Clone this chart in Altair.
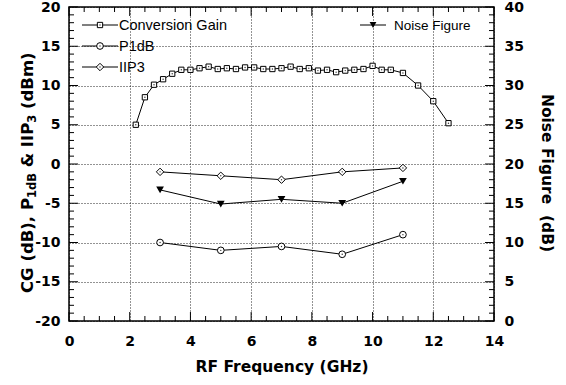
import altair as alt
import pandas as pd

# ---------------- data ----------------
cg_freq = [2.2, 2.5, 2.8, 3.1, 3.4, 3.7, 4.0, 4.3, 4.6, 4.9, 5.2, 5.5, 5.8, 6.1, 6.4, 6.7,
           7.0, 7.3, 7.6, 7.9, 8.2, 8.5, 8.8, 9.1, 9.4, 9.7, 10.0, 10.3, 10.6, 11.0, 11.5, 12.0, 12.5]
cg_gain = [5.0, 8.5, 10.1, 10.8, 11.5, 12.0, 12.0, 12.2, 12.4, 12.1, 12.2, 12.1, 12.3, 12.3, 12.1, 12.1,
           12.2, 12.4, 12.1, 12.2, 11.9, 12.0, 11.7, 11.9, 12.0, 12.1, 12.5, 12.0, 12.0, 11.6, 10.0, 8.0, 5.2]
meas_freq = [3, 5, 7, 9, 11]
p1db = [-10, -11, -10.5, -11.5, -9]
iip3 = [-1, -1.5, -2, -1, -0.5]
noise_fig = [16.7, 14.9, 15.5, 15.0, 17.8]

x_ticks = [0, 2, 4, 6, 8, 10, 12, 14]
y_ticks = [-20, -15, -10, -5, 0, 5, 10, 15, 20]
nf_ticks = [0, 5, 10, 15, 20, 25, 30, 35, 40]
legend_left = ["Conversion Gain", "P1dB", "IIP3"]
legend_right = ["Noise Figure"]
x_title = "RF Frequency (GHz)"
nf_title = "Noise Figure \u00a0(dB)"

# ---------------- layout ----------------
W, H = 425, 314
PADL, PADT = 69, 7
BOLD = "DejaVu Sans"
NORM = "Liberation Sans"

xs = alt.Scale(domain=[0, 14], nice=False, zero=False)
ys = alt.Scale(domain=[-20, 20], nice=False, zero=False)
nfs = alt.Scale(domain=[0, 40], nice=False, zero=False)

cg_df = pd.DataFrame({"f": cg_freq, "v": cg_gain})
meas_df = pd.DataFrame({"f": meas_freq, "p1db": p1db, "iip3": iip3, "nf": noise_fig})
one = pd.DataFrame({"a": [0]})

common_axis = dict(tickSize=0, domain=False, labelFont=BOLD, labelFontSize=14,
                   labelFontWeight="bold", labelColor="#000", labelOverlap=False,
                   labelFlush=False, labelBound=False, gridColor="#000",
                   gridDash=[1, 2], gridWidth=1, gridOpacity=0.85,
                   labelExpr="'' + datum.value")

x_axis = alt.Axis(values=x_ticks, grid=True, labelPadding=13, orient="bottom",
                  title=x_title, titleFont=BOLD, titleFontSize=15.5, titleFontWeight="bold",
                  titleColor="#000", titleY=50.5, titleBaseline="alphabetic", **common_axis)
y_axis = alt.Axis(values=y_ticks, grid=True, labelPadding=9, title=None,
                  orient="left", **common_axis)
nf_axis = alt.Axis(orient="right", values=nf_ticks, grid=False, labelPadding=10,
                   title=nf_title, titleFont=BOLD, titleFontSize=15.5, titleFontWeight="bold",
                   titleColor="#000", titleAngle=90, titleX=47, titleY=165.5,
                   titleAlign="center", titleBaseline="alphabetic", **common_axis)

layers = []

# main layer: CG line carrying the x and left y axes (with grid)
layers.append(alt.Chart(cg_df).mark_line(color="#000", strokeWidth=1).encode(
    x=alt.X("f:Q", scale=xs, axis=x_axis),
    y=alt.Y("v:Q", scale=ys, axis=y_axis)))

# NF layer carrying the right axis
layers.append(alt.Chart(meas_df).mark_line(color="#000", strokeWidth=1).encode(
    x=alt.X("f:Q", scale=xs, axis=None),
    y=alt.Y("nf:Q", scale=nfs, axis=nf_axis)))
layers.append(alt.Chart(meas_df).mark_point(shape="triangle-down", size=60, filled=True,
                                            color="#000", opacity=1).encode(
    x=alt.X("f:Q", scale=xs, axis=None),
    y=alt.Y("nf:Q", scale=nfs, axis=None)))


# inward ticks
def tick_layer(vals, side, length):
    df = pd.DataFrame({"t": vals})
    base = alt.Chart(df).mark_rule(color="#000", strokeWidth=1)
    if side == "bottom":
        return base.encode(x=alt.X("t:Q", scale=xs, axis=None), y=alt.value(H), y2=alt.value(H - length))
    if side == "top":
        return base.encode(x=alt.X("t:Q", scale=xs, axis=None), y=alt.value(0), y2=alt.value(length))
    if side == "left":
        return base.encode(y=alt.Y("t:Q", scale=ys, axis=None), x=alt.value(0), x2=alt.value(length))
    return base.encode(y=alt.Y("t:Q", scale=ys, axis=None), x=alt.value(W), x2=alt.value(W - length))


x_minor = [k * 0.5 for k in range(29) if k % 4 != 0]
y_minor = [k for k in range(-20, 21) if k % 5 != 0]
for side in ["bottom", "top"]:
    layers.append(tick_layer(x_ticks, side, 9))
    layers.append(tick_layer(x_minor, side, 5))
for side in ["left", "right"]:
    layers.append(tick_layer(y_ticks, side, 9))
    layers.append(tick_layer(y_minor, side, 5))


def line_layer(field):
    return alt.Chart(meas_df).mark_line(color="#000", strokeWidth=1).encode(
        x=alt.X("f:Q", scale=xs, axis=None), y=alt.Y(f"{field}:Q", scale=ys, axis=None))


def pt_layer(df, field, shape, size):
    p = alt.Chart(df).mark_point(shape=shape, size=size, filled=True, fill="white",
                                 stroke="#000", strokeWidth=1, opacity=1).encode(
        x=alt.X("f:Q", scale=xs, axis=None), y=alt.Y(f"{field}:Q", scale=ys, axis=None))
    d = alt.Chart(df).mark_circle(size=2, color="#333", opacity=1).encode(
        x=alt.X("f:Q", scale=xs, axis=None), y=alt.Y(f"{field}:Q", scale=ys, axis=None))
    return [p, d]


layers.append(line_layer("p1db"))
layers.append(line_layer("iip3"))
layers += pt_layer(cg_df, "v", "square", 28)
layers += pt_layer(meas_df, "p1db", "circle", 45)
layers += pt_layer(meas_df, "iip3", "diamond", 55)


# ---------------- legends ----------------
def legend_entry(name, shape, cx, cy, x1, x2, tx, size, fs, filled_black=False, dot=True):
    out = [alt.Chart(one).mark_rule(color="#000", strokeWidth=1).encode(
        x=alt.value(x1 - PADL), x2=alt.value(x2 - PADL), y=alt.value(cy - PADT))]
    if filled_black:
        out.append(alt.Chart(one).mark_point(shape=shape, size=size, filled=True, color="#000",
                                             opacity=1).encode(
            x=alt.value(cx - PADL), y=alt.value(cy - PADT)))
    else:
        out.append(alt.Chart(one).mark_point(shape=shape, size=size, filled=True, fill="white",
                                             stroke="#000", strokeWidth=1, opacity=1).encode(
            x=alt.value(cx - PADL), y=alt.value(cy - PADT)))
    if dot:
        out.append(alt.Chart(one).mark_circle(size=2, color="#333", opacity=1).encode(
            x=alt.value(cx - PADL), y=alt.value(cy - PADT)))
    out.append(alt.Chart(pd.DataFrame({"n": [name]})).mark_text(
        font=NORM, fontSize=fs, align="left", baseline="middle", color="#000").encode(
        text="n:N", x=alt.value(tx - PADL), y=alt.value(cy - PADT + 0.5)))
    return out


layers += legend_entry(legend_left[0], "square", 100, 25, 82, 118, 119, 28, 14.5)
layers += legend_entry(legend_left[1], "circle", 100, 46, 82, 118, 119, 45, 14.5)
layers += legend_entry(legend_left[2], "diamond", 100, 67, 82, 118, 119, 55, 14.5)
layers += legend_entry(legend_right[0], "triangle-down", 373, 25, 360, 386, 394, 45, 13.5,
                       filled_black=True, dot=False)

# ---------------- left axis title with subscripts ----------------
em = {"C": .734, "G": .821, " ": .348, "(": .457, ")": .457, "d": .716, "B": .762, ",": .380,
      "P": .733, "1": .696, "3": .696, "&": .871, "I": .372, "m": 1.042}
MAIN, SUB = 16.5, 11.5
pieces = [("CG (dB), P", MAIN), ("1dB", SUB), (" ", MAIN), ("& IIP", MAIN), ("3", SUB),
          (" ", MAIN), ("(dBm)", MAIN)]
base_x, start_y = 33, 293
pos = 0.0
for txt, fs in pieces:
    w = sum(em[c] for c in txt) * fs
    if txt.strip():
        layers.append(alt.Chart(pd.DataFrame({"t": [txt]})).mark_text(
            font=BOLD, fontWeight="bold", fontSize=fs, angle=270, align="left",
            baseline="alphabetic", color="#000").encode(
            text="t:N",
            x=alt.value(base_x - PADL + (3 if fs == SUB else 0)),
            y=alt.value(start_y - PADT - pos)))
    pos += w

chart = alt.layer(*layers).resolve_scale(y="independent").resolve_axis(
    x="independent", y="independent").properties(
    width=W, height=H,
    padding={"left": PADL, "top": PADT, "right": 566 - PADL - W, "bottom": 385 - PADT - H},
    autosize=alt.AutoSizeParams(type="none"),
    background="white",
).configure_view(stroke="#000", strokeWidth=1.5)

chart.save("out.html", embed_options={"renderer": "svg", "actions": False})
